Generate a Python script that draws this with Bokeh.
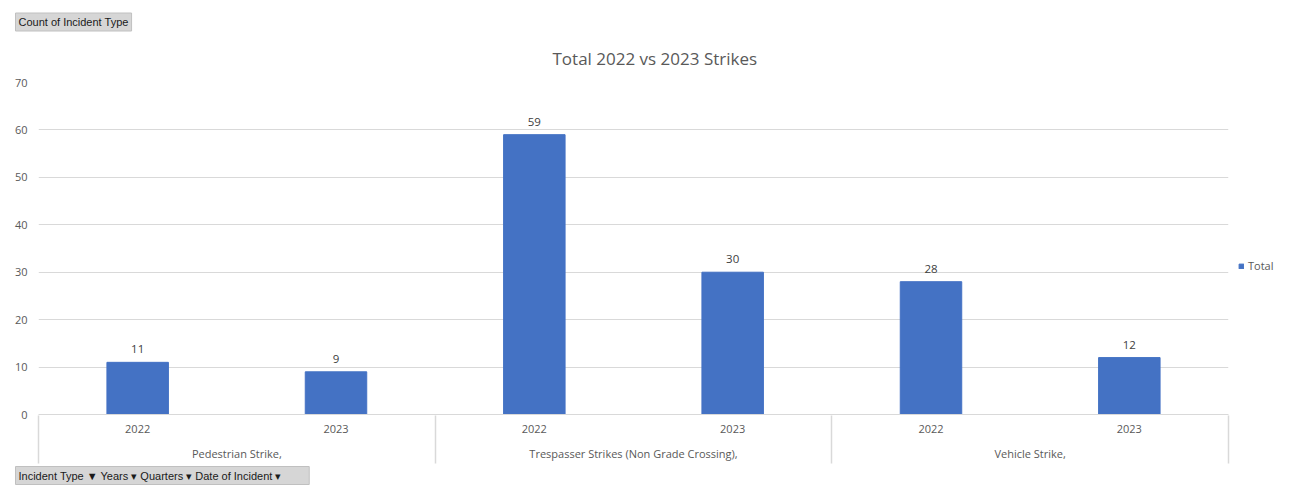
from bokeh.plotting import figure
from bokeh.models import (FactorRange, ColumnDataSource, LabelSet, Legend, LegendItem,
                          FixedTicker, Range1d, Title, CategoricalAxis)
from bokeh.core.properties import value
from bokeh.embed import file_html
from bokeh.resources import INLINE

incident_types = ["Pedestrian Strike,", "Trespasser Strikes (Non Grade Crossing),", "Vehicle Strike,"]
years = ["2022", "2023"]
totals = [11, 9, 59, 30, 28, 12]
y_ticks = [0, 10, 20, 30, 40, 50, 60, 70]
field_buttons = ["Incident Type  \u25bc", "Years \u25be", "Quarters \u25be", "Date of Incident  \u25be"]

factors = [(t, y) for t in incident_types for y in years]
src = ColumnDataSource(dict(x=factors, top=totals, lbl=[str(v) for v in totals]))

FONT = "Open Sans"
BTN = "Liberation Sans"
GRAY = "#595959"
GRID = "#d9d9d9"

p = figure(x_range=FactorRange(*factors, group_padding=0, factor_padding=0, range_padding=0),
           y_range=Range1d(0, 70),
           frame_width=1190, frame_height=332,
           min_border_left=38, min_border_top=82, min_border_right=48, min_border_bottom=57,
           output_backend="svg", toolbar_location=None, tools="")
p.outline_line_color = None
# helper range whose factor centres fall on the category-group boundaries
boundaries = ["b0", "b1", "b2", "b3"]
p.extra_x_ranges = {"edges": FactorRange(*boundaries, range_padding=-0.2495, factor_padding=0)}

r = p.vbar(x="x", top="top", width=0.31, source=src, color="#4472C4")

p.add_layout(LabelSet(x="x", y="top", text="lbl", source=src, text_align="center",
                      text_baseline="bottom", y_offset=9, text_font_size="11.5px",
                      text_font=value(FONT), text_color="#404040"))

# "Count of Incident Type" field button (outermost title)
p.title.text = "Count of Incident Type"
p.title.align = "left"
p.title.offset = -23
p.title.text_font = BTN
p.title.text_font_size = "11px"
p.title.text_font_style = "normal"
p.title.text_color = "#1a1a1a"
p.title.background_fill_color = "#d6d6d6"
p.title.border_line_color = "#c0c0c0"
p.title.padding = 3
p.title.standoff = 1

# chart title (inner)
main_title = Title(text="Total 2022 vs 2023 Strikes", align="left", offset=514,
                   text_font=FONT, text_font_size="17px", text_font_style="normal",
                   text_color=GRAY, standoff=26)
p.add_layout(main_title, "above")

# y axis
p.yaxis.ticker = FixedTicker(ticks=y_ticks)
p.yaxis.axis_line_color = None
p.yaxis.major_tick_line_color = None
p.yaxis.minor_tick_line_color = None
p.yaxis.major_tick_out = 0
p.yaxis.major_label_standoff = 11
p.yaxis.major_label_text_font = FONT
p.yaxis.major_label_text_font_size = "11px"
p.yaxis.major_label_text_color = GRAY
p.ygrid.grid_line_color = GRID
p.xgrid.grid_line_color = None

# x axis (nested categories)
xa = p.xaxis[0]
xa.axis_line_color = GRID
xa.major_tick_line_color = None
xa.minor_tick_line_color = None
xa.major_tick_out = 0
xa.major_label_standoff = 10
xa.major_label_text_font = FONT
xa.major_label_text_font_size = "11px"
xa.major_label_text_color = GRAY
xa.group_text_font = FONT
xa.group_text_font_size = "11px"
xa.group_text_font_style = "normal"
xa.group_text_color = GRAY
xa.separator_line_color = None

# category boundary lines (drawn as inward ticks of a helper axis below)
edge_axis = CategoricalAxis(x_range_name="edges",
                            axis_line_color=None, major_tick_in=48, major_tick_out=0,
                            major_tick_line_color=GRID, major_tick_line_width=1.5,
                            minor_tick_line_color=None, major_label_text_font_size="0px",
                            major_label_text_color=None, major_label_standoff=0)
p.add_layout(edge_axis, "below")

# field buttons row at the bottom
btn_title = Title(text="   ".join(field_buttons), align="left", offset=-23,
                  text_font=BTN, text_font_size="11px", text_font_style="normal",
                  text_color="#1a1a1a", background_fill_color="#d6d6d6",
                  border_line_color="#c0c0c0", padding=3, standoff=2)
p.add_layout(btn_title, "below")

# legend in right panel
legend = Legend(items=[LegendItem(label="Total", renderers=[r])],
                location=(10, 141), orientation="vertical",
                glyph_width=6, glyph_height=6, label_height=12, label_standoff=4,
                padding=0, margin=0, spacing=0,
                label_text_font=FONT, label_text_font_size="11px", label_text_color=GRAY,
                border_line_color=None, background_fill_alpha=0)
p.add_layout(legend, "right")

open("out.html", "w").write(file_html(p, INLINE))
